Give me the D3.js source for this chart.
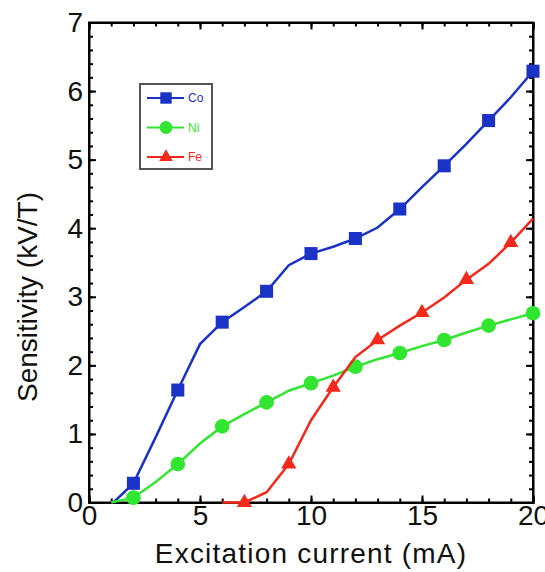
<!doctype html>
<html lang="en">
   <head>
      <meta charset="utf-8">
      <title>Sensitivity vs excitation current</title>
      <script src="https://d3js.org/d3.v7.min.js"></script>
      <style>
         body { margin: 0; background: #fff; }
         svg { display: block; font-family: "Liberation Sans", Arial, sans-serif; }
         .axis path, .axis line { stroke: #000; stroke-width: 2; }
         .axis text { font-size: 28px; fill: #111; }
      </style>
   </head>
   <body>
      <svg id="chart" width="545" height="572"></svg>
      <script>
      // values (current in mA, sensitivity in kV/T)
      var coCurrent = [1.1, 2, 3, 4, 5, 6, 7, 8, 9, 10, 11, 12, 13, 14, 15, 16, 17, 18, 19, 20];
      var coValues  = [0, 0.28, 0.95, 1.64, 2.31, 2.63, 2.85, 3.08, 3.46, 3.63, 3.73, 3.85, 4.01, 4.28, 4.60, 4.91, 5.23, 5.57, 5.91, 6.29];
      var coMarked  = [2, 4, 6, 8, 10, 12, 14, 16, 18, 20];

      var niCurrent = [1, 2, 3, 4, 5, 6, 7, 8, 9, 10, 11, 12, 13, 14, 15, 16, 17, 18, 19, 20];
      var niValues  = [0, 0.07, 0.30, 0.56, 0.86, 1.11, 1.29, 1.46, 1.63, 1.74, 1.85, 1.98, 2.09, 2.18, 2.28, 2.37, 2.48, 2.58, 2.67, 2.76];
      var niMarked  = [2, 4, 6, 8, 10, 12, 14, 16, 18, 20];

      var feCurrent = [6, 7, 8, 9, 10, 11, 12, 13, 14, 15, 16, 17, 18, 19, 20];
      var feValues  = [0, 0, 0.15, 0.56, 1.20, 1.68, 2.12, 2.37, 2.58, 2.77, 2.99, 3.25, 3.48, 3.79, 4.14];
      var feMarked  = [7, 9, 11, 13, 15, 17, 19];

      var seriesNames = ["Co", "Ni", "Fe"];
      var xTicks = [0, 5, 10, 15, 20];
      var yTicks = [0, 1, 2, 3, 4, 5, 6, 7];

      (function() {
         var series = [
            { name: "Co", x: coCurrent, y: coValues, marked: coMarked, color: "#1a32c6", shape: d3.symbolSquare },
            { name: "Ni", x: niCurrent, y: niValues, marked: niMarked, color: "#30e630", shape: d3.symbolCircle },
            { name: "Fe", x: feCurrent, y: feValues, marked: feMarked, color: "#f5281c", shape: d3.symbolTriangle }
         ];

         var svg = d3.select("#chart");
         var left = 89, right = 533, plotTop = 22.5, bottom = 502.5;

         var x = d3.scaleLinear().domain([0, 20]).range([left, right]);
         var y = d3.scaleLinear().domain([0, 7]).range([bottom, plotTop]);

         var minorX = d3.range(0, 21, 1);
         var minorY = d3.range(0, 7.01, 0.2);

         // minor ticks on all four sides
         function minor(axis, tr) {
            svg.append("g").attr("class", "axis").attr("transform", tr)
               .call(axis.tickSize(-4).tickFormat(""))
               .call(function(g) { g.select(".domain").remove(); });
         }
         minor(d3.axisBottom(x).tickValues(minorX), "translate(0," + bottom + ")");
         minor(d3.axisTop(x).tickValues(minorX), "translate(0," + plotTop + ")");
         minor(d3.axisLeft(y).tickValues(minorY), "translate(" + left + ",0)");
         minor(d3.axisRight(y).tickValues(minorY), "translate(" + right + ",0)");

         // major ticks
         svg.append("g").attr("class", "axis").attr("transform", "translate(0," + bottom + ")")
            .call(d3.axisBottom(x).tickValues(xTicks).tickSize(-7).tickPadding(3).tickFormat(d3.format("d")));
         svg.append("g").attr("class", "axis").attr("transform", "translate(" + left + ",0)")
            .call(d3.axisLeft(y).tickValues(yTicks).tickSize(-7).tickPadding(6).tickFormat(d3.format("d")));
         svg.append("g").attr("class", "axis").attr("transform", "translate(0," + plotTop + ")")
            .call(d3.axisTop(x).tickValues(xTicks).tickSize(-7).tickFormat(""));
         svg.append("g").attr("class", "axis").attr("transform", "translate(" + right + ",0)")
            .call(d3.axisRight(y).tickValues(yTicks).tickSize(-7).tickFormat(""));

         svg.append("rect")
            .attr("x", left).attr("y", plotTop)
            .attr("width", right - left).attr("height", bottom - plotTop)
            .attr("fill", "none").attr("stroke", "#000").attr("stroke-width", 2);

         // axis titles
         svg.append("text")
            .attr("x", (left + right) / 2).attr("y", 563)
            .attr("text-anchor", "middle")
            .style("font-size", "28px").style("letter-spacing", "1.2px").attr("fill", "#111")
            .text("Excitation current (mA)");
         svg.append("text")
            .attr("transform", "translate(37,297) rotate(-90)")
            .attr("text-anchor", "middle")
            .style("font-size", "28px").attr("fill", "#111")
            .text("Sensitivity (kV/T)");

         var line = d3.line()
            .x(function(d) { return x(d[0]); })
            .y(function(d) { return y(d[1]); });

         series.forEach(function(s) {
            var pts = s.x.map(function(v, i) { return [v, s.y[i]]; });
            svg.append("path")
               .datum(pts)
               .attr("d", line)
               .attr("fill", "none")
               .attr("stroke", s.color)
               .attr("stroke-width", 2.5);

            var marks = pts.filter(function(p) { return s.marked.indexOf(p[0]) >= 0; });
            svg.append("g").selectAll("path")
               .data(marks)
               .enter().append("path")
               .attr("d", d3.symbol().type(s.shape).size(s.shape === d3.symbolTriangle ? 100 : 170))
               .attr("transform", function(d) { return "translate(" + x(d[0]) + "," + y(d[1]) + ")"; })
               .attr("fill", s.color);
         });

         // legend
         var legend = svg.append("g").attr("transform", "translate(140,84)");
         legend.append("rect")
            .attr("width", 72).attr("height", 85)
            .attr("fill", "#fff").attr("stroke", "#555").attr("stroke-width", 2);

         var legendY = d3.scalePoint().domain(seriesNames).range([14, 73]);
         series.forEach(function(s) {
            var g = legend.append("g").attr("transform", "translate(0," + legendY(s.name) + ")");
            g.append("line")
               .attr("x1", 7).attr("x2", 44)
               .attr("stroke", s.color).attr("stroke-width", 2);
            g.append("path")
               .attr("d", d3.symbol().type(s.shape).size(s.shape === d3.symbolTriangle ? 80 : 130))
               .attr("transform", "translate(26,0)")
               .attr("fill", s.color);
            g.append("text")
               .attr("x", 48).attr("dy", "0.35em")
               .style("font-size", "12px")
               .attr("fill", s.color)
               .text(s.name);
         });
      })();
      </script>
   </body>
</html>
